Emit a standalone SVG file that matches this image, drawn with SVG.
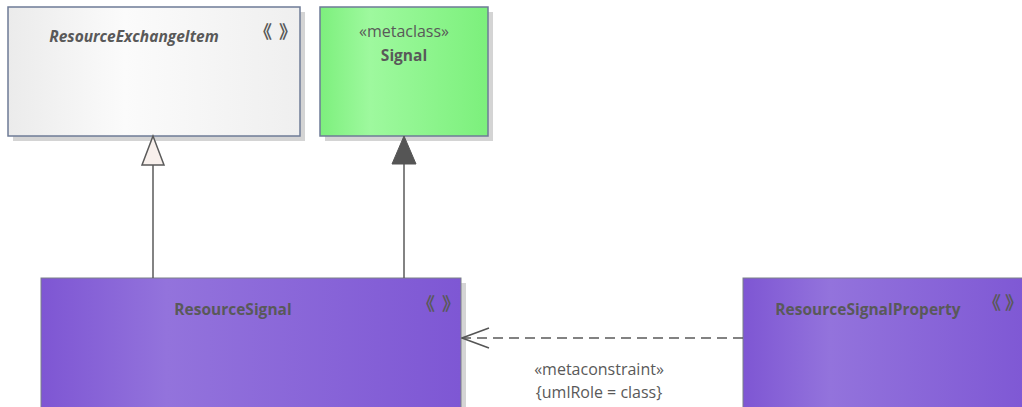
<svg xmlns="http://www.w3.org/2000/svg" width="1022" height="407" viewBox="0 0 1022 407">
<defs>
<linearGradient id="gGrey" x1="0" y1="0" x2="1" y2="0">
<stop offset="0" stop-color="#ebebeb"/><stop offset="0.4" stop-color="#fbfbfb"/><stop offset="1" stop-color="#efefef"/>
</linearGradient>
<linearGradient id="gGreen" x1="0" y1="0" x2="1" y2="0">
<stop offset="0" stop-color="#7def7d"/><stop offset="0.3" stop-color="#9ef99e"/><stop offset="1" stop-color="#7cf07c"/>
</linearGradient>
<linearGradient id="gPurple" x1="0" y1="0" x2="1" y2="0">
<stop offset="0" stop-color="#7e56d3"/><stop offset="0.3" stop-color="#9373dc"/><stop offset="1" stop-color="#7e57d4"/>
</linearGradient>
<marker id="openArrow" viewBox="0 0 30 24" refX="29" refY="12" markerWidth="30" markerHeight="24" markerUnits="userSpaceOnUse" orient="auto">
<path d="M2,2 L29,12 L2,22" fill="none" stroke="#555" stroke-width="1.5"/>
</marker>
</defs>
<style>
.shadow{fill:#d4d4d4}
.box{stroke:#6e7b96;stroke-width:1.5}
.pbox{stroke:#7a8088;stroke-width:1}
.t{font-family:"Open Sans","Liberation Sans",sans-serif;fill:#595959;text-anchor:middle}
.b{font-weight:bold;font-size:15.5px}
.n{font-size:16px}
.g{font-family:"Noto Sans CJK SC","Noto Sans CJK JP",sans-serif;font-size:18px;font-weight:bold;fill:#595959;text-anchor:middle}
.conn{stroke:#5a5a5a;stroke-width:1.5;fill:none}
</style>
<g id="ResourceExchangeItem">
<rect class="shadow" x="13" y="12" width="292" height="129"/>
<rect class="box" x="8" y="7" width="292" height="129" fill="url(#gGrey)"/>
<text class="t b" x="134" y="42" font-style="italic" font-size="16px">ResourceExchangeItem</text>
<text class="g" x="263" y="38">《</text><text class="g" x="288" y="38">》</text>
</g>
<g id="Signal">
<rect class="shadow" x="325" y="12" width="168" height="129"/>
<rect class="box" x="320" y="7" width="168" height="129" fill="url(#gGreen)"/>
<text class="t n" x="404" y="37">«metaclass»</text>
<text class="t b" x="404" y="61">Signal</text>
</g>
<g id="ResourceSignal">
<rect class="shadow" x="46" y="283" width="420" height="130"/>
<rect class="pbox" x="41" y="278" width="420" height="135" fill="url(#gPurple)"/>
<text class="t b" x="233" y="315">ResourceSignal</text>
<text class="g" x="426" y="310">《</text><text class="g" x="451" y="310">》</text>
</g>
<g id="ResourceSignalProperty">
<rect class="pbox" x="743" y="278" width="290" height="135" fill="url(#gPurple)"/>
<text class="t b" x="868" y="315">ResourceSignalProperty</text>
<text class="g" x="992" y="309">《</text><text class="g" x="1014" y="309">》</text>
</g>
<g id="connectors">
<line class="conn" x1="153" y1="278" x2="153" y2="165"/>
<polygon points="153,136 142,165 164,165" fill="#f8f0ec" stroke="#5a5a5a" stroke-width="1.5"/>
<line class="conn" x1="404" y1="278" x2="404" y2="163"/>
<polygon points="404,136 392,164 416,164" fill="#555" stroke="#555" stroke-width="1"/>
<line class="conn" x1="743" y1="338" x2="462" y2="338" stroke-dasharray="10,6" marker-end="url(#openArrow)"/>
<text class="t n" x="599" y="375">«metaconstraint»</text>
<text class="t n" x="599" y="398">{umlRole = class}</text>
</g>
</svg>
